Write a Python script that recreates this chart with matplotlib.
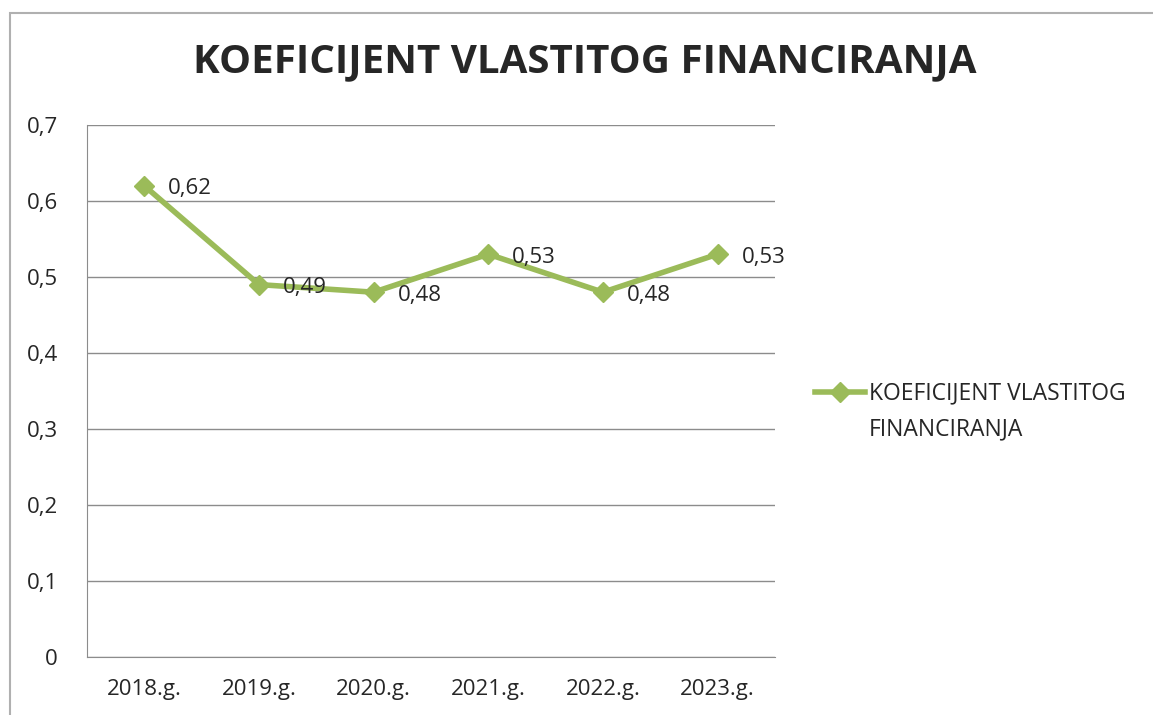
import matplotlib.pyplot as plt
from matplotlib.patches import Rectangle
from matplotlib.lines import Line2D

years = ["2018.g.", "2019.g.", "2020.g.", "2021.g.", "2022.g.", "2023.g."]
values = [0.62, 0.49, 0.48, 0.53, 0.48, 0.53]
label_texts = ["0,62", "0,49", "0,48", "0,53", "0,48", "0,53"]
y_ticks = [0, 0.1, 0.2, 0.3, 0.4, 0.5, 0.6, 0.7]
y_tick_labels = ["0", "0,1", "0,2", "0,3", "0,4", "0,5", "0,6", "0,7"]
series_name = "KOEFICIJENT VLASTITOG\nFINANCIRANJA"
title = "KOEFICIJENT VLASTITOG FINANCIRANJA"

plt.rcParams["font.family"] = ["Open Sans", "DejaVu Sans"]
green = "#9bbb59"
txt = "#262626"

fig = plt.figure(figsize=(11.53, 7.15), dpi=100)
fig.patches.append(Rectangle((0.009, -0.01), 1.2, 0.992, transform=fig.transFigure,
                             fill=False, edgecolor="#b0b0b0", linewidth=1.5))

ax = fig.add_axes([87 / 1153, 1 - 657 / 715, 688 / 1153, 532 / 715])
x = list(range(len(years)))
ax.plot(x, values, color=green, linewidth=4, marker="D", markersize=10,
        markeredgecolor=green)

for xi, v, t in zip(x, values, label_texts):
    ax.annotate(t, (xi, v), xytext=(24, -3), textcoords="offset pixels",
                ha="left", va="center", fontsize=16, color=txt)

ax.set_xlim(-0.5, len(years) - 0.5)
ax.set_ylim(0, 0.7)
ax.set_yticks(y_ticks)
ax.set_yticklabels(y_tick_labels)
ax.set_xticks(x)
ax.set_xticklabels(years)
ax.tick_params(axis="both", length=0, labelsize=16, colors=txt)
ax.tick_params(axis="y", pad=21)
ax.tick_params(axis="x", pad=16)
ax.grid(axis="y", color="#8c8c8c", linewidth=1)
ax.set_axisbelow(True)
for s in ["top", "right"]:
    ax.spines[s].set_visible(False)
for s in ["left", "bottom"]:
    ax.spines[s].set_color("#8c8c8c")

fig.text(585 / 1153, 1 - 62 / 715, title, ha="center", va="center",
         fontsize=29, fontweight="bold", color=txt)

# legend drawn by hand so the marker lines up with the first text line
ly = 1 - 392 / 715
fig.add_artist(Line2D([815 / 1153, 865 / 1153], [ly, ly], transform=fig.transFigure,
                      color=green, linewidth=4))
fig.add_artist(Line2D([840 / 1153], [ly], transform=fig.transFigure, color=green,
                      marker="D", markersize=10))
fig.text(869 / 1153, ly + 11 / 715, series_name, ha="left", va="top",
         fontsize=16.5, color=txt, linespacing=1.7)

plt.savefig("out.png", dpi=100)
